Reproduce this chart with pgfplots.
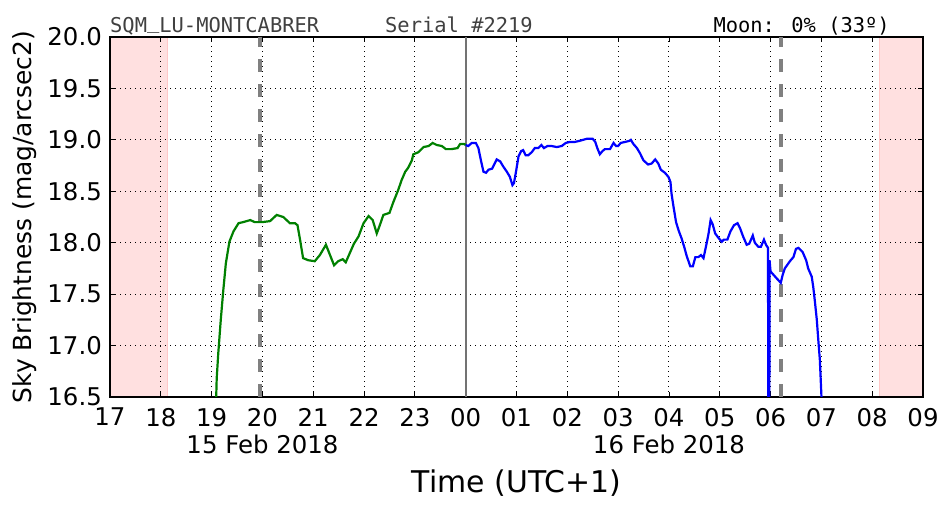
\documentclass[border=0pt]{standalone}
\usepackage{fontspec}
\setmainfont{DejaVu Sans}
\newfontfamily\monofont{DejaVu Sans Mono}
\usepackage{pgfplots}
\pgfplotsset{compat=1.18}
\definecolor{nightpink}{RGB}{255,224,224}
\definecolor{pinkedge}{RGB}{255,200,200}
\definecolor{mplgreen}{RGB}{0,128,0}
\definecolor{mplblue}{RGB}{0,0,255}
\definecolor{titlegray}{RGB}{64,64,64}

\begin{document}
\begin{tikzpicture}
\begin{axis}[
  name=ax,
  at={(110bp,115bp)}, anchor=south west,
  scale only axis, width=813bp, height=360bp,
  set layers, clip mode=individual,
  xmin=17, xmax=33, ymin=16.5, ymax=20,
  xtick={17,...,33},
  xticklabels={17,18,19,20,21,22,23,00,01,02,03,04,05,06,07,08,09},
  ytick={16.5,17,17.5,18,18.5,19,19.5,20},
  yticklabels={16.5,17.0,17.5,18.0,18.5,19.0,19.5,20.0},
  /pgf/number format/assume math mode=true,
  ticklabel style={font=\fontsize{24.5}{28}\selectfont, inner sep=0pt},
  xticklabel style={anchor=north, yshift=-11bp},
  yticklabel style={anchor=east, xshift=-8bp},
  tick align=inside, major tick length=5bp,
  tick style={black, line width=0.8bp},
  axis line style={line width=1.5bp},
  grid=major,
  grid style={black, line width=0.9bp, dash pattern=on 1.2bp off 3.8bp},
  ylabel={Sky Brightness (mag/arcsec2)},
  ylabel style={at={(axis description cs:-0.1045,0.5)}, anchor=center,
    font=\fontsize{25}{29}\selectfont},
  xlabel={Time (UTC+1)},
  xlabel style={at={(axis description cs:0.5,0)}, anchor=center,
    yshift=-86bp, font=\fontsize{30}{35}\selectfont},
]
% night limits
\addplot[on layer=axis background, fill=nightpink, draw=pinkedge, line width=0.8bp]
  coordinates {(17,16.5) (18.12,16.5) (18.12,20) (17,20) (17,16.5)};
\addplot[on layer=axis background, fill=nightpink, draw=pinkedge, line width=0.8bp]
  coordinates {(32.14,16.5) (33,16.5) (33,20) (32.14,20) (32.14,16.5)};
% sunset / sunrise and midnight
\addplot[gray, line width=4bp, dash pattern=on 12.5bp off 12.5bp]
  coordinates {(19.95,16.5) (19.95,20)};
\addplot[gray, line width=4bp, dash pattern=on 12.5bp off 12.5bp]
  coordinates {(30.20,16.5) (30.20,20)};
\addplot[gray!90!black, line width=1.8bp] coordinates {(24,16.5) (24,20)};
% evening
\addplot[mplgreen, line width=2.2bp] coordinates {
(19.06,16.30) (19.09,16.50) (19.10,16.68) (19.13,16.92) (19.18,17.25)
(19.23,17.54) (19.28,17.80) (19.35,18.01) (19.43,18.11) (19.53,18.19)
(19.62,18.20) (19.76,18.22) (19.85,18.20) (19.99,18.20) (20.15,18.21)
(20.28,18.27) (20.41,18.25) (20.54,18.19) (20.64,18.19) (20.69,18.17)
(20.74,18.03) (20.80,17.85) (20.90,17.83) (21.03,17.82) (21.13,17.88)
(21.25,17.98) (21.33,17.88) (21.41,17.78) (21.49,17.82) (21.58,17.84)
(21.64,17.81) (21.72,17.90) (21.80,17.99) (21.89,18.06) (21.99,18.19)
(22.09,18.26) (22.17,18.22) (22.25,18.09) (22.31,18.17) (22.38,18.27)
(22.50,18.29) (22.58,18.40) (22.67,18.51) (22.74,18.61) (22.81,18.69)
(22.87,18.73) (22.94,18.80) (22.97,18.86) (23.07,18.88) (23.17,18.93)
(23.27,18.94) (23.35,18.97) (23.43,18.95) (23.53,18.94) (23.61,18.91)
(23.72,18.91) (23.84,18.92) (23.89,18.96) (23.97,18.96) (24.00,18.95)};
% morning
\addplot[mplblue, line width=2.2bp] coordinates {
(24.00,18.95) (24.05,18.94) (24.12,18.97) (24.20,18.97) (24.25,18.92)
(24.30,18.80) (24.35,18.69) (24.40,18.68) (24.45,18.71) (24.52,18.72)
(24.56,18.76) (24.61,18.81) (24.68,18.79) (24.74,18.74) (24.81,18.69)
(24.87,18.64) (24.92,18.56) (24.95,18.58) (24.99,18.69) (25.04,18.84)
(25.09,18.89) (25.13,18.90) (25.18,18.85) (25.23,18.85) (25.30,18.88)
(25.36,18.92) (25.43,18.92) (25.49,18.95) (25.54,18.92) (25.61,18.94)
(25.69,18.94) (25.79,18.93) (25.89,18.94) (25.97,18.97) (26.05,18.98)
(26.15,18.98) (26.24,18.99) (26.38,19.01) (26.50,19.01) (26.55,18.98)
(26.59,18.92) (26.64,18.86) (26.69,18.89) (26.74,18.91) (26.84,18.91)
(26.91,18.97) (26.96,18.94) (27.00,18.94) (27.05,18.97) (27.14,18.98)
(27.22,18.99) (27.25,19.00) (27.30,18.96) (27.37,18.92) (27.43,18.87)
(27.50,18.80) (27.59,18.76) (27.66,18.77) (27.73,18.81) (27.79,18.77)
(27.84,18.71) (27.92,18.68) (27.99,18.64) (28.03,18.59) (28.05,18.48)
(28.09,18.35) (28.14,18.20) (28.19,18.12) (28.25,18.04) (28.30,17.96)
(28.35,17.87) (28.42,17.77) (28.47,17.77) (28.52,17.86) (28.58,17.86)
(28.63,17.88) (28.68,17.85) (28.74,17.99) (28.78,18.09) (28.82,18.22)
(28.86,18.18) (28.91,18.09) (28.97,18.05) (29.04,18.01) (29.08,18.03)
(29.15,18.03) (29.21,18.11) (29.28,18.17) (29.35,18.19) (29.40,18.14)
(29.46,18.06) (29.53,17.98) (29.58,17.99) (29.65,18.07) (29.69,18.00)
(29.76,17.96) (29.81,17.96) (29.87,18.03) (29.91,17.98) (29.95,17.95)
(29.955,16.00) (29.965,17.80) (29.975,16.00) (29.98,17.83) (30.00,17.72)
(30.09,17.67) (30.20,17.61) (30.24,17.69) (30.28,17.75) (30.38,17.82)
(30.45,17.86) (30.50,17.94) (30.55,17.95) (30.63,17.91) (30.70,17.83)
(30.74,17.75) (30.81,17.67) (30.84,17.57) (30.87,17.44) (30.91,17.25)
(30.94,17.05) (30.97,16.86) (31.00,16.52) (31.01,16.30)};
% dates under the hours
\node[anchor=north, inner sep=0pt, yshift=-37.5bp, font=\fontsize{24.5}{28}\selectfont]
  at (axis cs:20,16.5) {15 Feb 2018};
\node[anchor=north, inner sep=0pt, yshift=-37.5bp, font=\fontsize{24.5}{28}\selectfont]
  at (axis cs:28,16.5) {16 Feb 2018};
\end{axis}
\node[anchor=base west, inner sep=0pt, text=titlegray, font=\monofont\fontsize{20.5}{24}\selectfont]
  at ([yshift=4bp]ax.north west) {SQM\raisebox{0.22em}{\_}LU-MONTCABRER};
\node[anchor=base west, inner sep=0pt, text=titlegray, font=\monofont\fontsize{20.5}{24}\selectfont]
  at ([xshift=275bp, yshift=4bp]ax.north west) {Serial \#2219};
\node[anchor=base east, inner sep=0pt, font=\monofont\fontsize{20.5}{24}\selectfont]
  at ([xshift=-33bp, yshift=4bp]ax.north east) {Moon: 0\% (33º)};
\pgfresetboundingbox
\path[use as bounding box] (0,0) rectangle (952bp,512bp);
\end{tikzpicture}
\end{document}
